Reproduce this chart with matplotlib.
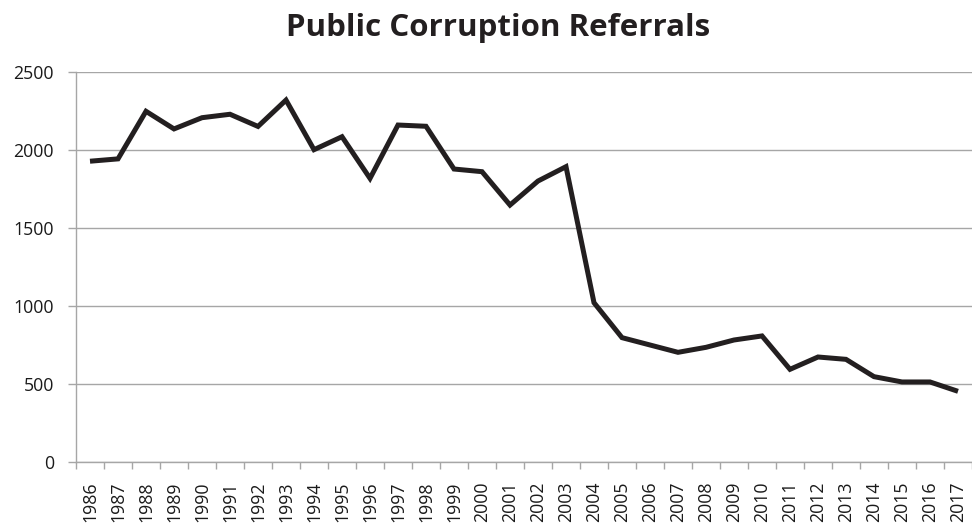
import numpy as np
import matplotlib.pyplot as plt
from matplotlib.ticker import FixedLocator

years = [str(y) for y in range(1986, 2018)]
referrals = [1930, 1945, 2250, 2137, 2209, 2231, 2153, 2322, 2004, 2087,
             1820, 2162, 2154, 1880, 1863, 1649, 1803, 1895, 1023, 799,
             752, 705, 737, 784, 810, 596, 675, 660, 549, 515,
             515, 455]

plt.rcParams['font.family'] = ['Open Sans', 'DejaVu Sans']

fig = plt.figure(figsize=(9.72, 5.30), dpi=100)
ax = fig.add_axes([76 / 972, 1 - 462.3 / 530, 896 / 972, 390 / 530])

x = np.arange(len(years))
ax.plot(x, referrals, color='#231f20', linewidth=3.6, solid_joinstyle='miter',
        solid_capstyle='butt', zorder=3)

grid_c = '#a6a6a6'
ax.set_xlim(-0.5, len(years) - 0.5)
ax.set_ylim(0, 2500)
ax.set_yticks(np.arange(0, 2501, 500))
ax.yaxis.grid(True, color=grid_c, linewidth=1.0)
ax.set_axisbelow(True)

# labels sit on the categories, tick marks go between them
ax.set_xticks(x)
ax.set_xticklabels(years, rotation=90, va='top', ha='center')
ax.xaxis.set_minor_locator(FixedLocator(np.arange(-0.5, len(years), 1.0)))
ax.tick_params(axis='x', which='major', length=0, pad=14, labelsize=12.8, colors='#1a1a1a')
ax.tick_params(axis='x', which='minor', length=5, width=1, color=grid_c)
ax.tick_params(axis='y', which='major', length=6, width=1, color=grid_c, pad=10,
               labelsize=12.8, labelcolor='#1a1a1a')

for side in ['top', 'right']:
    ax.spines[side].set_visible(False)
for side in ['left', 'bottom']:
    ax.spines[side].set_color(grid_c)
    ax.spines[side].set_linewidth(1.0)

fig.text(0.512, 0.948, 'Public Corruption Referrals', ha='center', va='center',
         fontsize=22.5, fontweight='bold', color='#231f20')

fig.savefig('out.png', dpi=100)
